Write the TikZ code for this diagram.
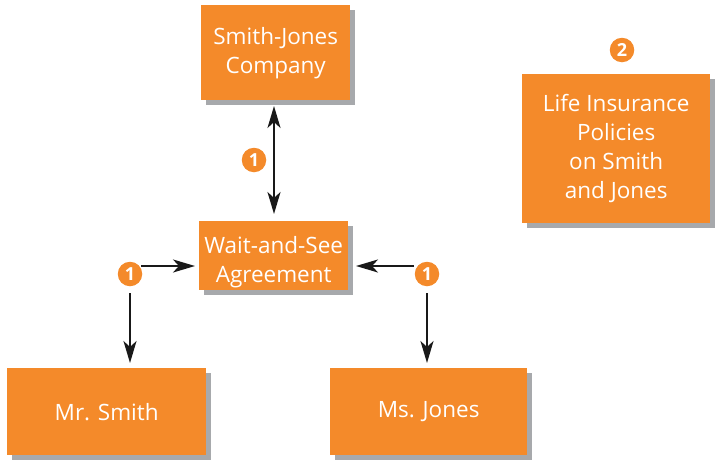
\documentclass[tikz,border=0pt]{standalone}
\usepackage{fontspec}
\setmainfont{Open Sans}
\usetikzlibrary{arrows.meta,shadows}
\definecolor{orng}{HTML}{F48A2A}
\definecolor{shd}{HTML}{A7A9AC}
\tikzset{
  box/.style={fill=orng, draw=none, text=white, align=center, font=\fontsize{22.5}{29}\selectfont,
    inner sep=0pt, anchor=north west,
    drop shadow={shadow xshift=5pt, shadow yshift=-5pt, fill=shd, opacity=1}},
  num/.style={circle, fill=orng, text=white, inner sep=0pt, minimum size=24.5pt, font=\bfseries\fontsize{18}{18}\selectfont},
  arr/.style={-{Stealth[length=22pt,width=13pt,inset=6pt]}, line width=2.2pt, black!90},
  darr/.style={{Stealth[length=22pt,width=13pt,inset=6pt]}-{Stealth[length=22pt,width=13pt,inset=6pt]}, line width=2.2pt, black!90}
}
\begin{document}
\begin{tikzpicture}[x=1pt,y=-1pt]
\useasboundingbox (0,0) rectangle (715,461);
\node[box, minimum width=149pt, minimum height=95pt] (sj) at (201,5) {Smith-Jones\\Company};
\node[box, minimum width=149pt, minimum height=69pt] (ws) at (199,221) {\rule{0pt}{29pt}Wait-and-See\\Agreement};
\node[box, minimum width=188pt, minimum height=149pt] (li) at (522,74) {Life Insurance\\Policies\\on Smith\\and Jones};
\node[box, minimum width=199pt, minimum height=87pt] (ms) at (7,368) {Mr. Smith};
\node[box, minimum width=197pt, minimum height=87pt] (mj) at (330,368) {Ms. Jones};
\node[num] (n2) at (622,50) {2};
\node[num] (n1a) at (254,160) {1};
\node[num] (n1b) at (130,274) {1};
\node[num] (n1c) at (427,274) {1};
\coordinate (sjb) at (274,106);
\coordinate (wst) at (274,214);
\draw[darr] (sjb) -- (wst);
\coordinate (wl) at (195,266);
\coordinate (wr) at (356,266);
\coordinate (lstart) at (141,266);
\coordinate (rstart) at (414,266);
\draw[arr] (lstart) -- (wl);
\draw[arr] (rstart) -- (wr);
\coordinate (msB) at (130,293);
\coordinate (mjB) at (427,293);
\coordinate (msT) at (130,363);
\coordinate (mjT) at (427,363);
\draw[arr] (msB) -- (msT);
\draw[arr] (mjB) -- (mjT);
\end{tikzpicture}
\end{document}
